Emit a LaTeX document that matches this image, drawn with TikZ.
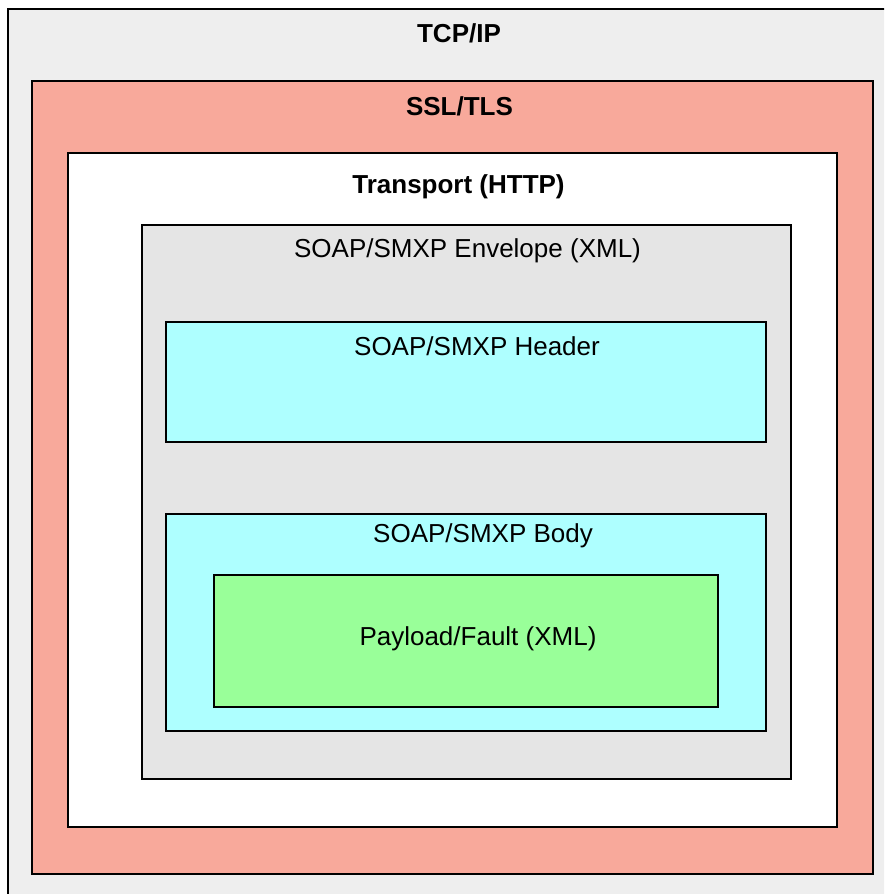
\documentclass[tikz,border=0pt]{standalone}
\usepackage{fontspec}
\setmainfont{Liberation Sans}
\definecolor{outerfill}{HTML}{EEEEEE}
\definecolor{sslfill}{HTML}{F8A99B}
\definecolor{envfill}{HTML}{E5E5E5}
\definecolor{cyanfill}{HTML}{AEFFFF}
\definecolor{greenfill}{HTML}{99FF99}
\tikzset{
  box/.style={draw=black, line width=1.3pt, anchor=north west, inner sep=0pt, outer sep=0pt},
  lbl/.style={anchor=base, inner sep=0pt, font=\fontsize{26}{30}\selectfont},
  blbl/.style={lbl, font=\fontsize{26}{30}\selectfont\bfseries}
}
\begin{document}
\begin{tikzpicture}[x=1pt, y=-1pt]
\useasboundingbox (0,0) rectangle (884,894);
\clip (0,0) rectangle (884,894);
\fill[white] (0,0) rectangle (884,894);
\node[box, fill=outerfill, minimum width=900pt, minimum height=900pt] (tcp) at (8,9) {};
\node[box, fill=sslfill, minimum width=841pt, minimum height=793pt] (ssl) at (32,81) {};
\node[box, fill=white, minimum width=769pt, minimum height=674pt] (transport) at (68,153) {};
\node[box, fill=envfill, minimum width=649pt, minimum height=554pt] (envelope) at (142,225) {};
\node[box, fill=cyanfill, minimum width=600pt, minimum height=120pt] (header) at (166,322) {};
\node[box, fill=cyanfill, minimum width=600pt, minimum height=217pt] (body) at (166,514) {};
\node[box, fill=greenfill, minimum width=504pt, minimum height=132pt] (payload) at (214,575) {};
\node[blbl] (tcplbl) at (459,42) {TCP/IP};
\node[blbl] (ssllbl) at (459.5,115) {SSL/TLS};
\node[blbl] (translbl) at (458.5,193) {Transport (HTTP)};
\node[lbl] (envlbl) at (467.5,257) {SOAP/SMXP Envelope (XML)};
\node[lbl] (headlbl) at (477,355) {SOAP/SMXP Header};
\node[lbl] (bodylbl) at (483,542) {SOAP/SMXP Body};
\node[lbl] (paylbl) at (478,645) {Payload/Fault (XML)};
\end{tikzpicture}
\end{document}
